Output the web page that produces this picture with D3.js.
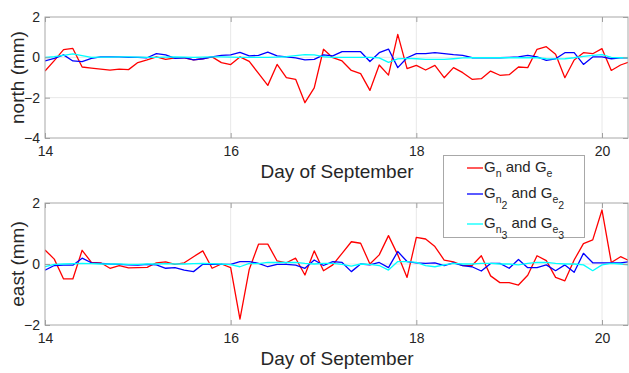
<!DOCTYPE html>
<html>
<head>
<meta charset="utf-8">
<script src="https://cdn.jsdelivr.net/npm/d3@7/dist/d3.min.js"></script>
<style>
  body { margin: 0; background: #fff; }
  svg { display: block; font-family: "Liberation Sans", Arial, sans-serif; }
</style>
</head>
<body>
<div id="chart"></div>
<script>
// sample times (day of September), every 0.1 day
const days = [14.0, 14.1, 14.2, 14.3, 14.4, 14.5, 14.6, 14.7, 14.8, 14.9,
  15.0, 15.1, 15.2, 15.3, 15.4, 15.5, 15.6, 15.7, 15.8, 15.9,
  16.0, 16.1, 16.2, 16.3, 16.4, 16.5, 16.6, 16.7, 16.8, 16.9,
  17.0, 17.1, 17.2, 17.3, 17.4, 17.5, 17.6, 17.7, 17.8, 17.9,
  18.0, 18.1, 18.2, 18.3, 18.4, 18.5, 18.6, 18.7, 18.8, 18.9,
  19.0, 19.1, 19.2, 19.3, 19.4, 19.5, 19.6, 19.7, 19.8, 19.9,
  20.0, 20.1, 20.2, 20.3];

// north (mm)
const northG1 = [-0.68, -0.16, 0.38, 0.44, -0.48, -0.53, -0.58, -0.63, -0.58, -0.61,
  -0.26, -0.13, 0.02, -0.10, -0.03, -0.03, -0.13, -0.07, 0.02, -0.26,
  -0.36, 0.02, -0.20, -0.80, -1.39, -0.35, -1.01, -1.09, -2.25, -1.51,
  0.40, -0.02, -0.18, -0.65, -0.81, -1.64, -0.38, -0.88, 1.14, -0.56,
  -0.40, -0.63, -0.40, -1.01, -0.51, -0.76, -1.09, -1.06, -0.68, -0.89,
  -0.86, -0.48, -0.51, 0.40, 0.53, 0.15, -1.01, -0.13, 0.23, 0.18,
  0.43, -0.65, -0.38, -0.22];
const northG2 = [-0.18, -0.05, 0.12, -0.18, -0.21, -0.05, 0.02, 0.02, 0.02, 0.00,
  0.00, -0.02, 0.18, 0.12, -0.05, -0.02, -0.13, -0.07, 0.02, 0.10,
  0.12, 0.25, 0.07, 0.10, 0.26, 0.07, 0.02, -0.03, -0.13, -0.10,
  0.12, 0.07, 0.28, 0.28, 0.28, -0.21, 0.23, 0.41, -0.51, -0.02,
  0.18, 0.18, 0.23, 0.18, 0.13, 0.10, -0.02, -0.02, -0.02, -0.02,
  0.00, 0.02, 0.10, 0.02, -0.15, -0.07, 0.23, 0.23, -0.35, 0.02,
  0.02, -0.07, -0.02, -0.02];
const northG3 = [0.00, 0.03, 0.10, 0.17, 0.08, 0.00, 0.01, 0.01, 0.02, 0.02,
  0.01, 0.00, 0.00, 0.01, 0.02, 0.01, 0.00, 0.01, 0.02, 0.02,
  0.01, 0.00, 0.00, 0.00, 0.00, 0.01, 0.03, 0.08, 0.13, 0.12,
  0.03, 0.00, 0.00, 0.00, 0.00, 0.00, -0.03, -0.25, -0.08, -0.05,
  -0.07, -0.10, -0.10, -0.10, -0.07, -0.03, -0.02, -0.02, -0.02, -0.01,
  -0.02, -0.02, -0.02, -0.02, -0.07, -0.08, -0.07, -0.02, 0.05, 0.10,
  0.13, 0.00, -0.02, -0.02];

// east (mm)
const eastG1 = [0.46, 0.16, -0.49, -0.49, 0.45, 0.05, 0.04, -0.14, -0.05, -0.13,
  -0.12, -0.11, 0.04, 0.07, -0.01, 0.04, 0.24, 0.43, -0.14, 0.00,
  -0.12, -1.81, -0.18, 0.65, 0.65, 0.10, 0.04, 0.19, -0.36, 0.43,
  -0.22, -0.03, 0.35, 0.73, 0.68, 0.00, 0.30, 0.93, 0.30, -0.44,
  0.87, 0.82, 0.57, 0.13, 0.07, -0.05, -0.05, 0.27, -0.39, -0.61,
  -0.61, -0.69, -0.37, 0.27, 0.11, -0.44, -0.55, 0.13, 0.67, 0.79,
  1.77, 0.05, 0.24, 0.10];
const eastG2 = [-0.20, -0.05, -0.04, -0.04, 0.19, 0.04, 0.02, 0.00, -0.01, -0.03,
  -0.04, -0.01, -0.03, -0.14, -0.12, -0.20, -0.25, -0.01, 0.00, -0.01,
  -0.01, 0.08, 0.08, 0.02, -0.09, -0.01, -0.01, -0.04, -0.14, 0.13,
  -0.05, 0.08, 0.05, -0.25, 0.00, -0.03, 0.05, -0.12, 0.41, 0.08,
  0.04, 0.02, 0.04, -0.05, 0.04, -0.05, -0.09, -0.23, 0.02, 0.02,
  -0.14, 0.15, -0.12, -0.12, -0.03, -0.22, -0.03, -0.27, 0.35, 0.04,
  0.04, 0.04, 0.04, 0.08];
const eastG3 = [-0.09, -0.01, 0.00, 0.01, 0.02, 0.01, 0.00, 0.00, 0.00, -0.01,
  -0.01, 0.00, 0.00, 0.01, 0.00, 0.00, 0.01, 0.02, 0.01, 0.00,
  -0.02, -0.09, 0.02, 0.01, 0.05, 0.05, 0.05, 0.05, 0.02, 0.00,
  0.02, 0.02, -0.01, -0.07, 0.00, -0.01, -0.05, -0.20, 0.08, 0.08,
  0.05, -0.05, -0.09, -0.03, 0.02, 0.00, 0.00, 0.02, 0.02, 0.00,
  0.00, -0.03, 0.02, 0.05, 0.05, 0.02, 0.00, 0.00, -0.03, -0.22,
  -0.03, 0.02, 0.00, -0.03];

const xTicks = [14, 16, 18, 20];
const colors = ["#ff0000", "#0000ff", "#00ffff"];

const width = 629, height = 373;
const left = 45, right = 628;

const svg = d3.select("#chart").append("svg")
  .attr("width", width).attr("height", height);

const x = d3.scaleLinear().domain([14, 20.28]).range([left, right]);

const panels = [
  { top: 17, bottom: 138, domain: [-4, 2], ticks: [-4, -2, 0, 2], label: "north (mm)",
    series: [northG1, northG2, northG3], id: "clipN" },
  { top: 203, bottom: 325, domain: [-2, 2], ticks: [-2, 0, 2], label: "east (mm)",
    series: [eastG1, eastG2, eastG3], id: "clipE" }
];

panels.forEach(p => {
  const y = d3.scaleLinear().domain(p.domain).range([p.bottom, p.top]);
  const g = svg.append("g");

  svg.append("clipPath").attr("id", p.id)
    .append("rect").attr("x", left).attr("y", p.top)
    .attr("width", right - left).attr("height", p.bottom - p.top);

  // grid
  g.selectAll(".gx").data(xTicks.slice(1)).enter().append("line")
    .attr("x1", d => x(d)).attr("x2", d => x(d))
    .attr("y1", p.top).attr("y2", p.bottom)
    .attr("stroke", "#e8e8e8").attr("stroke-width", 1);
  g.selectAll(".gy").data(p.ticks.slice(1, -1)).enter().append("line")
    .attr("x1", left).attr("x2", right)
    .attr("y1", d => y(d)).attr("y2", d => y(d))
    .attr("stroke", "#e8e8e8").attr("stroke-width", 1);

  // series
  const line = d3.line().x((d, i) => x(days[i])).y(d => y(d));
  p.series.forEach((s, i) => {
    g.append("path").datum(s)
      .attr("clip-path", `url(#${p.id})`)
      .attr("fill", "none").attr("stroke", colors[i])
      .attr("stroke-width", 1.3).attr("stroke-linejoin", "round")
      .attr("d", line);
  });

  // axes
  svg.append("g").attr("transform", `translate(0,${p.bottom})`)
    .call(d3.axisBottom(x).tickValues(xTicks).tickSize(-5).tickPadding(8).tickFormat(d3.format("d")));
  svg.append("g").attr("transform", `translate(0,${p.top})`)
    .call(d3.axisTop(x).tickValues(xTicks).tickSize(-5).tickFormat(""));
  svg.append("g").attr("transform", `translate(${left},0)`)
    .call(d3.axisLeft(y).tickValues(p.ticks).tickSize(-5).tickPadding(5).tickFormat(d3.format("d")));
  svg.append("g").attr("transform", `translate(${right},0)`)
    .call(d3.axisRight(y).tickValues(p.ticks).tickSize(-5).tickFormat(""));

  svg.selectAll(".domain").remove();
  svg.selectAll(".tick line").attr("stroke", "#a0a0a0");
  svg.selectAll(".tick text").attr("fill", "#262626").attr("font-size", 14)
    .attr("font-family", "Liberation Sans, Arial, sans-serif");

  g.append("rect").attr("x", left).attr("y", p.top)
    .attr("width", right - left).attr("height", p.bottom - p.top)
    .attr("fill", "none").attr("stroke", "#a8a8a8").attr("stroke-width", 1);

  svg.append("text")
    .attr("transform", `translate(24,${(p.top + p.bottom) / 2}) rotate(-90)`)
    .attr("text-anchor", "middle").attr("font-size", 19).attr("fill", "#262626")
    .text(p.label);

  svg.append("text")
    .attr("x", 337).attr("y", p.bottom + 40)
    .attr("text-anchor", "middle").attr("font-size", 19).attr("fill", "#262626")
    .text("Day of September");
});

// legend
const legend = svg.append("g");
legend.append("rect").attr("x", 443.5).attr("y", 155.5).attr("width", 141).attr("height", 82)
  .attr("fill", "#fff").attr("stroke", "#a8a8a8");

const legendRows = [
  { y: 168, sub: "n", sub2: "", sub3: "e" },
  { y: 194, sub: "n", sub2: "2", sub3: "e" },
  { y: 224, sub: "n", sub2: "3", sub3: "e" }
];
legendRows.forEach((r, i) => {
  legend.append("line").attr("x1", 467).attr("x2", 483)
    .attr("y1", r.y).attr("y2", r.y)
    .attr("stroke", colors[i]).attr("stroke-width", 1.3);
  const t = legend.append("text").attr("x", 484).attr("y", r.y + 4)
    .attr("font-size", 15).attr("fill", "#262626");
  t.append("tspan").text("G");
  t.append("tspan").attr("font-size", 10.5).attr("dy", 5).text(r.sub);
  if (r.sub2) t.append("tspan").attr("font-size", 10.5).attr("dy", 6).text(r.sub2);
  t.append("tspan").attr("dy", r.sub2 ? -11 : -5).text("\u00a0and G");
  t.append("tspan").attr("font-size", 10.5).attr("dy", 5).text(r.sub3);
  if (r.sub2) t.append("tspan").attr("font-size", 10.5).attr("dy", 6).text(r.sub2);
});
</script>
</body>
</html>
